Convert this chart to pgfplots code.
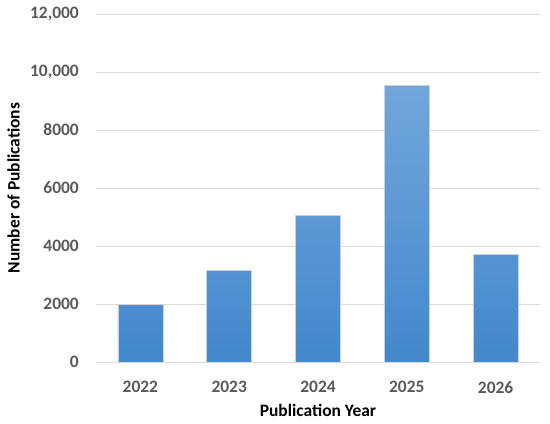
\documentclass[border=0pt]{standalone}
\usepackage{fontspec}
\setmainfont{Carlito}
\usepackage{pgfplots}
\pgfplotsset{compat=1.18}
\usetikzlibrary{calc}
\definecolor{tickgray}{HTML}{595959}
\definecolor{gridgray}{HTML}{D9D9D9}
\definecolor{bartop}{RGB}{114,166,220}
\definecolor{barbot}{RGB}{66,136,204}
\definecolor{shadowgray}{RGB}{205,208,214}
\begin{document}
\begin{tikzpicture}
\begin{axis}[
  scale only axis,
  width=444bp, height=348bp,
  xmin=-0.5, xmax=4.5,
  ymin=0, ymax=12000,
  scaled y ticks=false,
  axis line style={draw=none},
  xtick=data,
  xticklabels={2022,2023,2024,2025,2026},
  ytick={0,2000,4000,6000,8000,10000,12000},
  yticklabels={0,2000,4000,6000,8000,{10,000},{12,000}},
  major tick length=0pt,
  tick style={draw=none},
  ymajorgrids,
  grid style={gridgray, line width=0.9pt},
  /pgf/number format/assume math mode=true,
  ticklabel style={font=\bfseries\fontsize{17.5}{20}\selectfont, text=tickgray, inner sep=0pt},
  yticklabel style={anchor=east, xshift=-17bp},
  xticklabel style={anchor=north, yshift=-19bp},
  xlabel={Publication Year},
  ylabel={Number of Publications},
  label style={font=\bfseries\fontsize{17.5}{20}\selectfont, text=black, inner sep=0pt},
  xlabel style={at={(axis description cs:0.5,0)}, anchor=north, yshift=-42bp},
  ylabel style={at={(axis description cs:0,0.5)}, anchor=center, yshift=82.5bp},
  ybar, bar width=45bp,
]
\addplot[ybar, draw=shadowgray, line width=0.6pt, top color=bartop, bottom color=barbot] coordinates {
  (0,1990) (1,3150) (2,5050) (3,9540) (4,3720)
};
\end{axis}
\pgfresetboundingbox
\path ($(current axis.south west)+(-96bp,-62bp)$) rectangle ($(current axis.north east)+(10bp,14bp)$);
\end{tikzpicture}
\end{document}
